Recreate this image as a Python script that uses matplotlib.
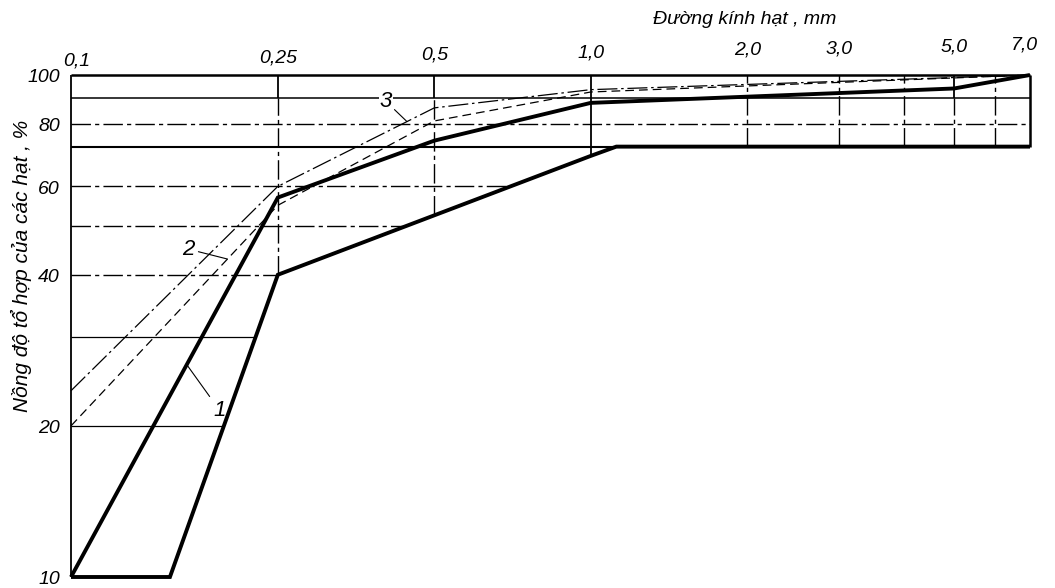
import numpy as np
import matplotlib
matplotlib.use("Agg")
import matplotlib.pyplot as plt

plt.rcParams['font.family'] = ['Liberation Sans', 'DejaVu Sans']

# ---------------- data ----------------
x_ticks = [0.1, 0.25, 0.5, 1.0, 2.0, 3.0, 5.0, 7.0]
x_tick_labels = ['0,1', '0,25', '0,5', '1,0', '2,0', '3,0', '5,0', '7,0']
x_grid_extra = [4.0, 6.0]
y_ticks = [10, 20, 40, 60, 80, 100]
y_tick_labels = ['10', '20', '40', '60', '80', '100']
y_grid = [20, 30, 40, 50, 60, 72, 80, 90]

# curve 1: band bounded by two bold lines
c1_upper_x = [0.1, 0.25, 0.5, 1.0, 5.0, 7.0]
c1_upper_y = [10, 57, 74, 88, 94, 100]
c1_lower_x = [0.1, 0.155, 0.25, 1.0, 1.12, 7.0]
c1_lower_y = [10, 10, 40, 69, 72, 72]
# curve 2 (dashed)
c2_x = [0.1, 0.25, 0.5, 1.0, 7.0]
c2_y = [20, 55, 81, 92.5, 100]
# curve 3 (dash-dot)
c3_x = [0.1, 0.25, 0.5, 1.0, 7.0]
c3_y = [23.5, 60, 86, 93.5, 100]

xlabel = 'Đường kính hạt , mm'
ylabel = 'Nồng độ tổ hợp của các hạt , %'

# ---------------- figure ----------------
W, H = 1055, 588
fig = plt.figure(figsize=(W / 100, H / 100), dpi=100)
left_px, right_px, top_px, bot_px = 71, 1030, 75, 577
ax = fig.add_axes([left_px / W, 1 - bot_px / H, (right_px - left_px) / W, (bot_px - top_px) / H])
ax.set_xscale('log')
ax.set_yscale('log')
xmin, xmax, ymin, ymax = 0.1, 7.0, 10, 100
ax.set_xlim(xmin, xmax)
ax.set_ylim(ymin, ymax)
ax.axis('off')

K = 'black'
DASHDOT = [14, 3, 3, 3]


def lower_y_at(x):
    return 10 ** np.interp(np.log10(x), np.log10(c1_lower_x), np.log10(c1_lower_y))


def lower_x_at(y):
    xs = c1_lower_x[1:5]
    ys = c1_lower_y[1:5]
    if y >= max(ys):
        return xmax
    return 10 ** np.interp(np.log10(y), np.log10(ys), np.log10(xs))


def seg(xs, ys, lw, dashes=None, **kw):
    line, = ax.plot(xs, ys, color=K, lw=lw, clip_on=False, solid_capstyle='butt', **kw)
    if dashes is not None:
        line.set_dashes(dashes)
    return line


# horizontal grid lines
h_style = {90: (1.1, None), 80: (1.0, DASHDOT), 72: (1.5, None), 60: (1.0, DASHDOT),
           50: (1.0, DASHDOT), 40: (1.0, DASHDOT), 30: (0.9, None), 20: (0.9, None)}
for v in y_grid:
    lw, d = h_style[v]
    seg([xmin, lower_x_at(v)], [v, v], lw, d)

# vertical grid lines
for xv in x_ticks[1:-1] + x_grid_extra:
    yb = lower_y_at(xv)
    if xv == 1.0:
        seg([xv, xv], [yb, ymax], 1.3)
    elif xv in (0.25, 0.5, 5.0):
        seg([xv, xv], [90, ymax], 1.3)
        seg([xv, xv], [yb, 90], 1.0, DASHDOT)
    else:
        seg([xv, xv], [yb, ymax], 1.0, DASHDOT)

# frame: top, left, right
seg([xmin, xmax], [ymax, ymax], 1.8)
seg([xmin, xmin], [ymin, ymax], 1.3)
seg([xmax, xmax], [c1_lower_y[-1], ymax], 1.8)

# curves
seg(c1_upper_x, c1_upper_y, 2.8, solid_joinstyle='miter')
seg(c1_lower_x, c1_lower_y, 2.8, solid_joinstyle='miter')
seg(c2_x, c2_y, 0.9, [7, 4])
seg(c3_x, c3_y, 0.9, [16, 3, 2, 3])

# tick labels
span = np.log10(xmax / xmin)
for xv, lab in zip(x_ticks, x_tick_labels):
    frac = np.log10(xv / xmin) / span
    base_px = 66 - 16 * frac
    off = (top_px - base_px) * 0.72
    dx = 4 if xv == xmin else (-4 if xv == xmax else 0)
    ax.annotate(lab, (xv, ymax), xytext=(dx, off), textcoords='offset points',
                ha='center', va='baseline', fontsize=14, fontstyle='italic',
                annotation_clip=False)
for yv, lab in zip(y_ticks, y_tick_labels):
    ax.annotate(lab, (xmin, yv), xytext=(-8, -2), textcoords='offset points',
                ha='right', va='center', fontsize=14, fontstyle='italic',
                annotation_clip=False)

# axis titles
fig.text(745 / W, 1 - 20 / H, xlabel, ha='center', va='center', fontsize=14, fontstyle='italic')
fig.text(21 / W, 1 - 266 / H, ylabel, ha='center', va='center', rotation=90,
         fontsize=15, fontstyle='italic')


# curve labels with leader lines
def on_curve(xs, ys, x):
    return 10 ** np.interp(np.log10(x), np.log10(xs), np.log10(ys))


leader = dict(arrowstyle='-', lw=0.8, color=K, shrinkA=1, shrinkB=0)
x1 = 0.167
ax.annotate('1', (x1, on_curve(c1_upper_x, c1_upper_y, x1)), xytext=(0.193, 21.5),
            ha='center', va='center', fontsize=16, fontstyle='italic', arrowprops=leader,
            annotation_clip=False)
x2 = 0.2
ax.annotate('2', (x2, on_curve(c2_x, c2_y, x2)), xytext=(0.168, 45),
            ha='center', va='center', fontsize=16, fontstyle='italic', arrowprops=leader,
            annotation_clip=False)
x3 = 0.443
ax.annotate('3', (x3, on_curve(c3_x, c3_y, x3)), xytext=(0.404, 88.5),
            ha='center', va='center', fontsize=16, fontstyle='italic', arrowprops=leader,
            bbox=dict(boxstyle='square,pad=0.05', fc='white', ec='none'),
            annotation_clip=False)

fig.savefig('out.png', dpi=100, facecolor='white')
